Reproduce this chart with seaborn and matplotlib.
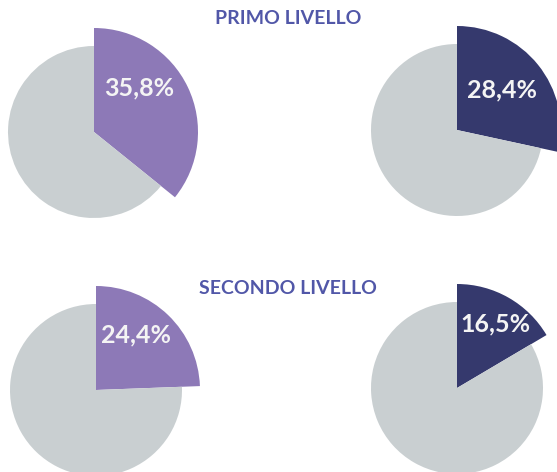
import matplotlib
matplotlib.use('Agg')
import matplotlib.pyplot as plt
import seaborn as sns

# share values (percent) for each pie
shares = [35.8, 28.4, 24.4, 16.5]
labels = ['35,8%', '28,4%', '24,4%', '16,5%']
titles = ['PRIMO LIVELLO', 'SECONDO LIVELLO']

light = '#8d79b7'
dark = '#35396d'
grey = '#c9cfd1'
title_col = '#5157a8'
pie_colors = [light, dark, light, dark]

sns.set_theme(style='white')
plt.rcParams['font.family'] = ['Lato', 'DejaVu Sans']

W, H = 557, 472
fig = plt.figure(figsize=(W / 100, H / 100), dpi=100)
ax = fig.add_axes([0, 0, 1, 1])

# pie centres in pixel space (y measured from top)
centres = [(94, 132), (457, 130), (96, 390), (457, 388)]
label_off = [(45, 44), (45, 40), (40, 55), (38, 64)]
r_grey, r_col = 86, 104

for i, v in enumerate(shares):
    cx, cy = centres[i]
    wedges, _ = ax.pie([v, 100 - v], colors=[pie_colors[i], grey],
                       startangle=90, counterclock=False,
                       radius=r_grey, center=(cx, H - cy),
                       wedgeprops={'linewidth': 0})
    wedges[0].set_radius(r_col)
    dx, dy = label_off[i]
    ax.text(cx + dx, H - cy + dy, labels[i], color='#f4f4f4', fontsize=18,
            fontweight='bold', ha='center', va='center')

ax.text(288, H - 18, titles[0], color=title_col, fontsize=14,
        fontweight='bold', ha='center', va='center')
ax.text(288, H - 288, titles[1], color=title_col, fontsize=14,
        fontweight='bold', ha='center', va='center')

ax.set_xlim(0, W)
ax.set_ylim(0, H)
ax.set_aspect('equal')
ax.axis('off')

fig.savefig('out.png', dpi=100)
